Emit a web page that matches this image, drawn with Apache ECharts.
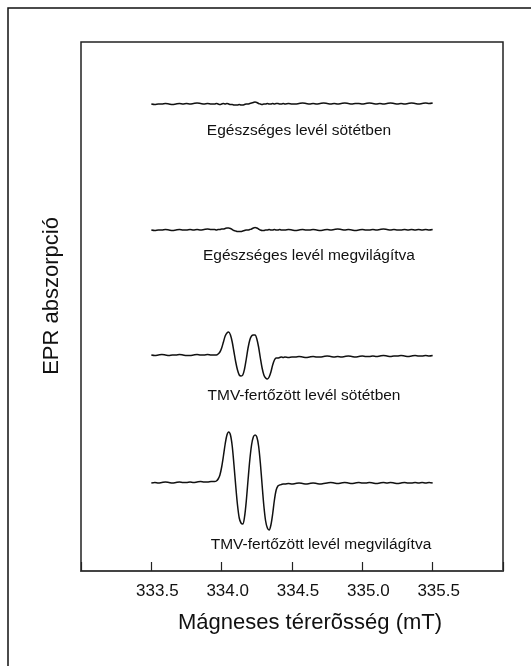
<!DOCTYPE html>
<html>
  <head>
    <meta charset="utf-8" />
    <title>EPR spektrumok</title>
    <script src="https://cdn.jsdelivr.net/npm/echarts@6/dist/echarts.min.js"></script>
    <style>
      html,
      body {
        margin: 0;
        padding: 0;
        background: #fff;
      }
      #chart {
        width: 531px;
        height: 666px;
      }
    </style>
  </head>
  <body>
    <div id="chart"></div>
    <script>
      // magnetic field (mT), denser sampling around the signal
      var field = [
        333.5, 333.525, 333.55, 333.575, 333.6, 333.625, 333.65, 333.675, 333.7, 333.725, 333.75, 333.775, 333.8, 333.825, 333.85, 333.875, 333.9, 333.925,
        333.95, 333.9625, 333.975, 333.9875, 334.0, 334.0125, 334.025, 334.0375, 334.05, 334.0625, 334.075, 334.0875, 334.1, 334.1125, 334.125, 334.1375,
        334.15, 334.1625, 334.175, 334.1875, 334.2, 334.2125, 334.225, 334.2375, 334.25, 334.2625, 334.275, 334.2875, 334.3, 334.3125, 334.325, 334.3375,
        334.35, 334.3625, 334.375, 334.3875, 334.4, 334.4125, 334.425, 334.4375,
        334.45, 334.475, 334.5, 334.525, 334.55, 334.575, 334.6, 334.625, 334.65, 334.675, 334.7, 334.725, 334.75, 334.775, 334.8, 334.825, 334.85,
        334.875, 334.9, 334.925, 334.95, 334.975, 335.0, 335.025, 335.05, 335.075, 335.1, 335.125, 335.15, 335.175, 335.2, 335.225, 335.25, 335.275,
        335.3, 335.325, 335.35, 335.375, 335.4, 335.425, 335.45, 335.475, 335.5
      ];

      // EPR absorption, arbitrary units (traces stacked)
      var egeszsegesSotet = [
        467, 466.5, 467, 467, 467.5, 467, 466.5, 467, 467.5, 467, 467.5, 467, 467.5, 468, 467.5, 467, 467.5, 467,
        467, 467.5, 467, 466.5, 467, 467.5, 467, 467.5, 467, 466.5, 466.5, 466, 466, 466, 466.5, 466, 466, 466.5, 467, 467,
        467.5, 468, 468.5, 469, 468.5, 467.5, 467, 466.5, 467, 467, 467.5, 467, 467, 467.5, 467, 467.5, 467.5, 467, 467, 467.5,
        467, 467.5, 467, 467, 467.5, 468, 467.5, 467, 467.5, 467, 467.5, 468, 467.5, 467, 467.5, 467, 467.5, 468, 467.5, 467,
        467.5, 467.5, 467, 467.5, 468, 467.5, 467, 467.5, 467, 467.5, 468, 467.5, 467, 467.5, 467, 467.5, 468, 467.5, 467, 467.5,
        468, 467.5, 468
      ];
      var egeszsegesFeny = [
        341, 340.5, 341, 341, 341.5, 341, 340.5, 341, 341.5, 341, 341, 341.5, 341, 341.5, 341, 341.5, 342, 341.5,
        341.5, 341, 341.5, 341.5, 342, 342, 342.5, 343, 343, 342.5, 341.5, 340.5, 340, 339.5, 339.5, 339.5, 340, 340.5, 341, 341,
        341.5, 342, 343, 343.5, 343, 342, 341, 340.5, 340.5, 341, 341, 341.5, 341, 341, 341.5, 341, 341, 341.5, 341, 341,
        341, 341.5, 341, 340.5, 341, 341.5, 341, 341, 341.5, 341, 340.5, 341, 341.5, 341, 341.5, 342, 341.5, 341, 341.5, 341,
        340.5, 341, 341.5, 341, 341, 341.5, 341, 341.5, 342, 341.5, 341, 341.5, 341, 341, 341.5, 341, 341.5, 341, 341.5, 341,
        341.5, 341, 341.5
      ];
      var tmvSotet = [
        216, 215.5, 216, 216.5, 216, 215.5, 216, 216, 216.5, 216, 215.5, 215.5, 216, 216.5, 216, 216, 216.5, 216,
        216, 216, 217, 219, 223, 229, 235, 238, 239, 236, 229, 219, 209, 201, 196, 195, 196, 202, 212, 223,
        231, 235, 236, 236, 232, 224, 213, 203, 196, 193, 192, 194, 199, 206, 211, 213, 213, 213.5, 214, 213.5,
        214, 213.5, 214, 214, 214.5, 214, 213.5, 214, 214.5, 214, 214, 214.5, 215, 214.5, 214, 214.5, 214, 214.5, 215, 214.5,
        214, 214.5, 215, 214.5, 214.5, 215, 214.5, 215, 215.5, 215, 214.5, 215, 215, 215.5, 215, 214.5, 215, 215.5, 215, 215,
        215.5, 215, 215.5
      ];
      var tmvFeny = [
        88, 88.5, 88, 88.5, 89, 88.5, 88, 88.5, 89, 88.5, 88.5, 89, 88.5, 89, 89.5, 89, 89, 89.5,
        89.5, 90, 92, 96, 104, 115, 127, 136, 139, 136, 125, 106, 85, 66, 53, 48, 47, 54, 70, 91,
        111, 126, 134, 136, 134, 125, 108, 86, 65, 50, 43, 41, 46, 57, 71, 81, 85, 86, 86.5, 87,
        87, 87.5, 87, 87.5, 88, 87.5, 87, 87.5, 88, 87.5, 87, 87.5, 88, 88.5, 88, 87.5, 88, 88.5, 88, 87.5,
        88, 88.5, 88, 88, 88.5, 88, 87.5, 88, 88.5, 88, 88.5, 88, 87.5, 88, 88.5, 88, 88, 88.5, 88, 88.5,
        88, 88.5, 88
      ];

      var traces = [egeszsegesSotet, egeszsegesFeny, tmvSotet, tmvFeny];
      var traceLabels = [
        "Egészséges levél sötétben",
        "Egészséges levél megvilágítva",
        "TMV-fertőzött levél sötétben",
        "TMV-fertőzött levél megvilágítva"
      ];
      var xTicks = [333.5, 334.0, 334.5, 335.0, 335.5];
      var xName = "Mágneses térerõsség (mT)";
      var yName = "EPR abszorpció";

      var font = "Liberation Sans, Arial, sans-serif";
      // label anchor points (pixels)
      var labelPos = [[299, 131], [309, 256], [304, 396], [321, 545]];

      var series = traces.map(function (vals, i) {
        return {
          name: traceLabels[i],
          type: "line",
          data: field.map(function (f, j) { return [f, vals[j]]; }),
          showSymbol: false,
          smooth: 0.3,
          lineStyle: { color: "#111", width: 1.5 },
          silent: true
        };
      });

      var graphics = [
        {
          type: "rect",
          shape: { x: 8, y: 8, width: 600, height: 700 },
          style: { fill: "none", stroke: "#111", lineWidth: 1.5 },
          silent: true
        },
        {
          type: "text",
          x: 310,
          y: 623,
          style: { text: xName, font: "22px " + font, fill: "#111", align: "center", verticalAlign: "middle" }
        },
        {
          type: "text",
          x: 52,
          y: 296,
          rotation: Math.PI / 2,
          style: { text: yName, font: "22px " + font, fill: "#111", align: "center", verticalAlign: "middle" }
        }
      ];
      traceLabels.forEach(function (t, i) {
        graphics.push({
          type: "text",
          x: labelPos[i][0],
          y: labelPos[i][1],
          style: { text: t, font: "15.5px " + font, fill: "#111", align: "center", verticalAlign: "middle" }
        });
      });

      var myChart = echarts.init(document.getElementById("chart"));
      var option = {
        backgroundColor: "#fff",
        animation: false,
        grid: {
          left: 81,
          top: 42,
          right: 28,
          bottom: 95,
          show: true,
          borderColor: "#222",
          borderWidth: 1.5
        },
        xAxis: {
          type: "value",
          min: 333,
          max: 336,
          interval: 0.5,
          axisLine: { show: true, lineStyle: { color: "#444", width: 2 } },
          axisTick: { show: true, inside: true, length: 9, lineStyle: { color: "#222", width: 1.2 } },
          splitLine: { show: false },
          axisLabel: {
            color: "#111",
            fontSize: 17,
            fontFamily: font,
            margin: 12,
            padding: [0, 0, 0, 12],
            formatter: function (v) {
              return xTicks.indexOf(v) >= 0 ? v.toFixed(1) : "";
            }
          }
        },
        yAxis: {
          type: "value",
          min: 0,
          max: 529,
          show: false,
          splitLine: { show: false }
        },
        series: series,
        graphic: graphics
      };
      myChart.setOption(option);
    </script>
  </body>
</html>
